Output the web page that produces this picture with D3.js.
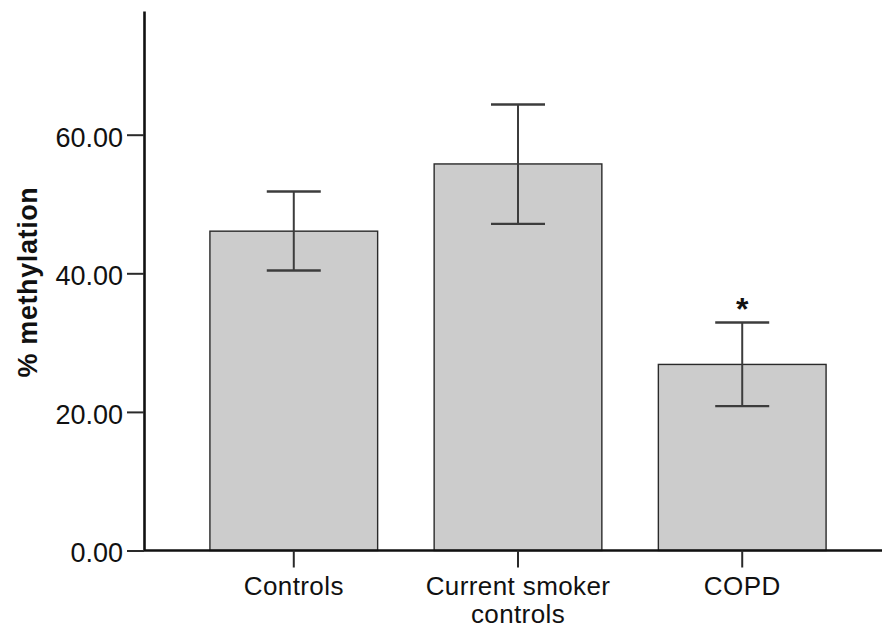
<!DOCTYPE html>
<html>
<head>
<meta charset="utf-8">
<script src="https://cdn.jsdelivr.net/npm/d3@7"></script>
<style>
  html, body { margin: 0; padding: 0; background: #fff; }
  svg { display: block; }
</style>
</head>
<body>
<script>
// Mean % methylation per group with error-bar bounds
const categories = ["Controls", "Current smoker controls", "COPD"];
const labelLines = [["Controls"], ["Current smoker", "controls"], ["COPD"]];
const means = [46.08, 55.78, 26.85];
const upper = [51.80, 64.35, 32.91];
const lower = [40.41, 47.13, 20.84];
const significance = ["", "", "*"];
const yTicks = [0, 20, 40, 60];
const yTickLabels = ["0.00", "20.00", "40.00", "60.00"];

const W = 882, H = 628;
const axisX = 144, axisY = 550.5;
const font = "Liberation Sans, Arial, sans-serif";

const svg = d3.select("body").append("svg")
  .attr("width", W).attr("height", H);

const x = d3.scaleBand()
  .domain(categories)
  .range([axisX, 892])
  .paddingInner(0.252)
  .paddingOuter(0.294);

const y = d3.scaleLinear()
  .domain([0, 77.85])
  .range([axisY, 11]);

const ink = "#111";

// Bars
svg.append("g").selectAll("rect")
  .data(categories)
  .join("rect")
  .attr("x", d => x(d))
  .attr("width", x.bandwidth())
  .attr("y", (d, i) => y(means[i]))
  .attr("height", (d, i) => y(0) - y(means[i]))
  .attr("fill", "#cccccc")
  .attr("stroke", "#2a2a2a")
  .attr("stroke-width", 1.4);

// Error bars
const capHalf = 27;
const eb = svg.append("g").attr("stroke", "#3c3c3c").attr("fill", "none");
categories.forEach((c, i) => {
  const cx = x(c) + x.bandwidth() / 2;
  eb.append("line").attr("x1", cx).attr("x2", cx)
    .attr("y1", y(upper[i])).attr("y2", y(lower[i])).attr("stroke-width", 2);
  eb.append("line").attr("x1", cx - capHalf).attr("x2", cx + capHalf)
    .attr("y1", y(upper[i])).attr("y2", y(upper[i])).attr("stroke-width", 2.4);
  eb.append("line").attr("x1", cx - capHalf).attr("x2", cx + capHalf)
    .attr("y1", y(lower[i])).attr("y2", y(lower[i])).attr("stroke-width", 2.4);
  if (significance[i]) {
    svg.append("text")
      .attr("x", cx).attr("y", y(upper[i]) - 2)
      .attr("text-anchor", "middle")
      .attr("font-family", font)
      .attr("font-size", 32)
      .attr("font-weight", "bold")
      .attr("fill", ink)
      .text(significance[i]);
  }
});

// Y axis
const yAxis = svg.append("g")
  .attr("transform", `translate(${axisX},0)`)
  .call(d3.axisLeft(y).tickValues(yTicks)
    .tickFormat((d, i) => yTickLabels[i])
    .tickSize(17).tickPadding(4).tickSizeOuter(0));
yAxis.select(".domain").attr("stroke", ink).attr("stroke-width", 2.6);
yAxis.selectAll(".tick line").attr("stroke", "#2a2a2a").attr("stroke-width", 2);
yAxis.selectAll(".tick text")
  .attr("font-family", font)
  .attr("font-size", 27)
  .attr("fill", ink)
  .attr("dy", "0.42em");

// X axis
const xAxis = svg.append("g")
  .attr("transform", `translate(0,${axisY})`)
  .call(d3.axisBottom(x).tickSize(17).tickSizeOuter(0).tickFormat(""));
xAxis.select(".domain").attr("d", `M${axisX},0H${W}`)
  .attr("stroke", ink).attr("stroke-width", 2.6);
xAxis.selectAll(".tick line").attr("stroke", "#2a2a2a").attr("stroke-width", 2);
xAxis.selectAll(".tick").each(function(d, i) {
  const t = d3.select(this).append("text")
    .attr("text-anchor", "middle")
    .attr("font-family", font)
    .attr("font-size", 26)
    .attr("letter-spacing", 0.4)
    .attr("fill", ink);
  labelLines[i].forEach((line, k) => {
    t.append("tspan").attr("x", 0).attr("y", 44 + k * 28).text(line);
  });
});

// Y axis title
svg.append("text")
  .attr("transform", `translate(37,${(186 + 378) / 2}) rotate(-90)`)
  .attr("text-anchor", "middle")
  .attr("font-family", font)
  .attr("font-size", 27)
  .attr("font-weight", "bold")
  .attr("letter-spacing", 0.6)
  .attr("fill", ink)
  .text("% methylation");
</script>
</body>
</html>
